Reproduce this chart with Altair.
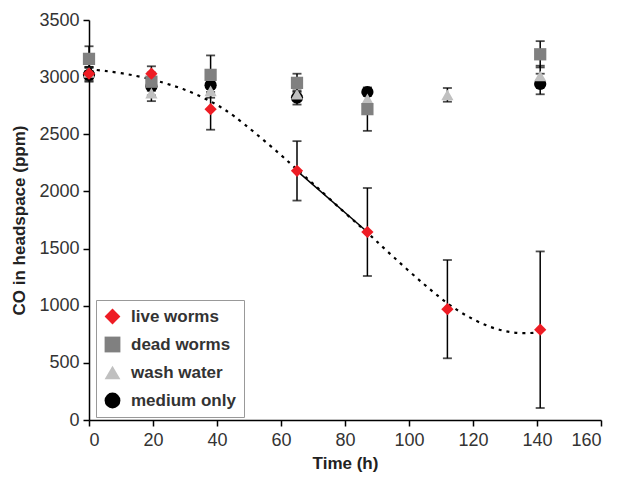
import altair as alt
import pandas as pd

FONT = "Liberation Sans"

series = ["live worms", "dead worms", "wash water", "medium only"]
colors = ["#ee1c24", "#808080", "#c0c0c0", "#000000"]
shapes = ["diamond", "square", "triangle-up", "circle"]

live_t = [0, 19.5, 38, 65, 87, 112, 141]
live_co = [3030, 3030, 2720, 2180, 1645, 970, 790]
live_err = [60, 65, 180, 260, 385, 430, 685]

dead_t = [0, 19.5, 38, 65, 87, 141]
dead_co = [3160, 2960, 3020, 2950, 2720, 3200]
dead_err = [110, 80, 170, 80, 190, 115]

wash_t = [0, 19.5, 38, 65, 87, 112, 141]
wash_co = [3040, 2860, 2880, 2850, 2810, 2845, 3010]
wash_err = [50, 70, 60, 50, 40, 60, 90]

med_t = [0, 19.5, 38, 65, 87, 141]
med_co = [3020, 2920, 2930, 2820, 2870, 2940]
med_err = [60, 80, 60, 60, 30, 90]

# dotted fitted curve
fit_t = [0, 10, 20, 27, 33, 40, 45, 52, 60, 65, 70, 80, 87, 90, 100, 110, 115, 120, 125, 130, 135, 140]
fit_co = [3070, 3040, 2980, 2920, 2860, 2760, 2670, 2510, 2320, 2190, 2070, 1810, 1640, 1560, 1300, 1060, 960, 880, 815, 775, 755, 765]

# solid segment between two live-worm points
seg_t = [65, 87]
seg_co = [2180, 1645]

rows = []
for name, ts, cs, es in [
    ("medium only", med_t, med_co, med_err),
    ("wash water", wash_t, wash_co, wash_err),
    ("dead worms", dead_t, dead_co, dead_err),
    ("live worms", live_t, live_co, live_err),
]:
    for t, c, e in zip(ts, cs, es):
        rows.append({"series": name, "t": t, "co": c, "lo": c - e, "hi": c + e})
df = pd.DataFrame(rows)
df["order"] = df["series"].map({"medium only": 0, "wash water": 1, "dead worms": 2, "live worms": 3})

fit_df = pd.DataFrame({"t": fit_t, "co": fit_co})
seg_df = pd.DataFrame({"t": seg_t, "co": seg_co})

xs = alt.Scale(domain=[0, 160], nice=False)
ys = alt.Scale(domain=[0, 3500], nice=False)

xax = alt.Axis(values=list(range(0, 161, 20)), title="Time (h)", format="d")
yax = alt.Axis(values=list(range(0, 3501, 500)), title="CO in headspace (ppm)", format="d")

fit = alt.Chart(fit_df).mark_line(
    color="black", strokeWidth=2.2, strokeDash=[3, 5], interpolate="basis"
).encode(
    x=alt.X("t:Q", scale=xs, axis=xax),
    y=alt.Y("co:Q", scale=ys, axis=yax),
)

seg = alt.Chart(seg_df).mark_line(color="black", strokeWidth=1.5).encode(
    x=alt.X("t:Q", scale=xs), y=alt.Y("co:Q", scale=ys)
)

base = alt.Chart(df)

rules = base.mark_rule(color="black", strokeWidth=1.5).encode(
    x=alt.X("t:Q", scale=xs), y=alt.Y("lo:Q", scale=ys), y2="hi:Q"
)
cap_lo = base.mark_tick(color="black", orient="horizontal", size=9, thickness=1.8).encode(
    x=alt.X("t:Q", scale=xs), y=alt.Y("lo:Q", scale=ys)
)
cap_hi = base.mark_tick(color="black", orient="horizontal", size=9, thickness=1.8).encode(
    x=alt.X("t:Q", scale=xs), y=alt.Y("hi:Q", scale=ys)
)

points = base.mark_point(filled=True, opacity=1, size=150, strokeWidth=0).encode(
    x=alt.X("t:Q", scale=xs),
    y=alt.Y("co:Q", scale=ys),
    color=alt.Color("series:N", scale=alt.Scale(domain=series, range=colors),
                    legend=alt.Legend(title=None)),
    shape=alt.Shape("series:N", scale=alt.Scale(domain=series, range=shapes),
                    legend=alt.Legend(title=None)),
    order=alt.Order("order:Q"),
)

chart = alt.layer(fit, seg, rules, cap_lo, cap_hi, points).properties(
    width=512,
    height=400,
    autosize=alt.AutoSizeParams(type="none"),
    padding={"left": 81, "top": 12, "right": 10, "bottom": 60},
).configure_view(stroke=None).configure_axis(
    grid=False,
    domainColor="black",
    domainWidth=1.5,
    tickColor="black",
    tickWidth=1.5,
    tickSize=6,
    labelFont=FONT,
    labelFontSize=18,
    labelColor="#333333",
    titleFont=FONT,
    titleFontSize=17,
    titleFontWeight="bold",
    titleColor="#222222",
).configure_axisX(
    labelPadding=5, titlePadding=6
).configure_axisY(
    labelPadding=4, titlePadding=10
).configure_legend(
    orient="none",
    legendX=7,
    legendY=280,
    strokeColor="#999999",
    fillColor="white",
    padding=8,
    symbolSize=250,
    symbolStrokeWidth=0,
    labelFont=FONT,
    labelFontSize=17,
    labelFontWeight="bold",
    labelColor="#333333",
    rowPadding=10,
    labelOffset=10,
)

chart.save("out.html", embed_options={"renderer": "svg", "actions": False})
